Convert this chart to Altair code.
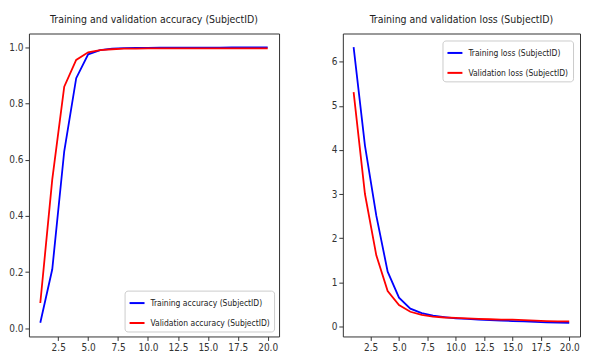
import altair as alt
import pandas as pd

epochs = list(range(1, 21))
acc_train = [0.02, 0.21, 0.63, 0.89, 0.975, 0.99, 0.995, 0.997, 0.998, 0.998,
             0.999, 0.999, 0.999, 0.999, 0.999, 0.999, 1.0, 1.0, 1.0, 1.0]
acc_val = [0.09, 0.53, 0.86, 0.955, 0.982, 0.99, 0.993, 0.995, 0.995, 0.996,
           0.996, 0.996, 0.996, 0.996, 0.996, 0.996, 0.996, 0.996, 0.996, 0.996]
loss_train = [6.33, 4.1, 2.51, 1.24, 0.65, 0.40, 0.30, 0.24, 0.21, 0.18,
              0.17, 0.15, 0.14, 0.13, 0.12, 0.11, 0.10, 0.09, 0.085, 0.08]
loss_val = [5.31, 3.0, 1.61, 0.80, 0.48, 0.33, 0.26, 0.22, 0.20, 0.19,
            0.18, 0.17, 0.16, 0.15, 0.15, 0.14, 0.13, 0.12, 0.11, 0.11]

acc_names = ["Training accuracy (SubjectID)", "Validation accuracy (SubjectID)"]
loss_names = ["Training loss (SubjectID)", "Validation loss (SubjectID)"]
x_ticks = [2.5, 5.0, 7.5, 10.0, 12.5, 15.0, 17.5, 20.0]
acc_ticks = [0.0, 0.2, 0.4, 0.6, 0.8, 1.0]
loss_ticks = [0, 1, 2, 3, 4, 5, 6]

FONT = "DejaVu Sans Condensed, Liberation Sans, sans-serif"


def long_df(names, a, b):
    rows = []
    for e, v in zip(epochs, a):
        rows.append({"epoch": e, "value": v, "series": names[0]})
    for e, v in zip(epochs, b):
        rows.append({"epoch": e, "value": v, "series": names[1]})
    return pd.DataFrame(rows)


def panel(df, names, title, ydomain, yticks, yfmt, orient, width, offset):
    return alt.Chart(df).mark_line(strokeWidth=1.8).encode(
        x=alt.X("epoch:Q",
                scale=alt.Scale(domain=[0.05, 20.95], nice=False, zero=False),
                axis=alt.Axis(values=x_ticks, format=".1f", title=None)),
        y=alt.Y("value:Q",
                scale=alt.Scale(domain=ydomain, nice=False, zero=False),
                axis=alt.Axis(values=yticks, format=yfmt, title=None)),
        color=alt.Color("series:N",
                        scale=alt.Scale(domain=names, range=["#0000ff", "#ff0000"]),
                        legend=alt.Legend(title=None, orient=orient, offset=offset)),
    ).properties(width=width, height=304, title=title)


left = panel(long_df(acc_names, acc_train, acc_val), acc_names,
             "Training and validation accuracy (SubjectID)",
             [-0.029, 1.049], acc_ticks, ".1f", "bottom-right", 251, 5)
right = panel(long_df(loss_names, loss_train, loss_val), loss_names,
              "Training and validation loss (SubjectID)",
              [-0.23, 6.64], loss_ticks, "d", "top-right", 238, 7)

chart = alt.hconcat(left, right, spacing=50).resolve_scale(
    color="independent").resolve_legend(color="independent").properties(
    padding={"left": 0, "top": 6, "right": 0, "bottom": 0}
).configure_view(
    stroke="#333", strokeWidth=1
).configure_axis(
    domain=False, grid=False, tickColor="#333", tickSize=4, labelPadding=2,
    labelFont=FONT, labelFontSize=10, labelColor="#333"
).configure_title(
    font=FONT, fontSize=10.5, fontWeight="normal", color="#222", anchor="middle", offset=8
).configure_legend(
    labelFont=FONT, labelFontSize=8.5, labelColor="#222", symbolType="stroke",
    symbolStrokeWidth=2, symbolSize=225, strokeColor="#ccc", fillColor="white",
    padding=4, cornerRadius=3, rowPadding=7, labelLimit=300, labelOffset=5
)

chart.save("out.html", embed_options={"renderer": "svg", "actions": False})
